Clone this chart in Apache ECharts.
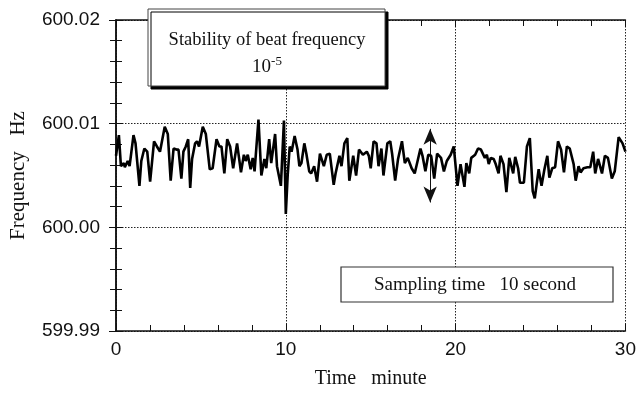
<!DOCTYPE html>
<html><head><meta charset="utf-8">
<script src="https://cdn.jsdelivr.net/npm/echarts@6/dist/echarts.min.js"></script>
<style>html,body{margin:0;padding:0;background:#fff}#c{width:639px;height:394px}</style>
</head><body><div id="c"></div>
<script>
// time in minutes (10 s sampling)
var times = [0.00,0.17,0.29,0.46,0.52,0.69,0.80,1.03,1.15,1.38,1.49,1.67,1.84,2.01,2.24,2.41,2.59,2.70,2.87,3.05,3.22,3.39,3.56,3.68,3.85,3.97,4.11,4.25,4.37,4.48,4.66,4.77,4.89,5.11,5.29,5.52,5.69,5.92,6.09,6.21,6.38,6.55,6.72,6.90,7.13,
7.36,7.53,7.64,7.76,7.93,8.05,8.16,8.39,8.56,8.74,8.85,9.02,9.14,9.37,9.48,9.71,9.89,10.00,10.11,10.23,10.34,10.52,10.69,10.80,10.92,11.09,11.21,11.38,11.49,11.67,11.84,12.01,12.24,12.41,12.59,12.82,12.93,13.16,13.28,13.45,13.62,13.74,13.97,14.14,14.31,14.54,
14.77,14.89,15.00,15.17,15.34,15.46,15.63,15.75,15.98,16.15,16.26,16.44,16.61,16.84,17.01,17.18,17.41,17.59,17.76,17.93,18.05,18.22,18.39,18.56,18.74,18.91,19.14,19.31,19.48,19.71,19.89,20.11,20.29,20.52,20.63,20.80,20.92,21.15,21.32,21.49,21.72,
21.84,21.95,22.07,22.24,22.36,22.53,22.64,22.82,22.99,23.16,23.39,23.51,23.68,23.79,24.02,24.20,24.37,24.54,24.66,24.89,25.06,25.23,25.40,25.52,25.69,25.86,26.03,26.21,26.38,26.55,26.72,26.95,27.07,27.24,27.36,27.53,27.76,27.93,28.10,28.22,28.39,28.62,28.79,28.97,29.20,29.37,29.60,29.83,30.00];
// beat frequency in Hz
var freqs = [600.0069,600.0089,600.0059,600.0062,600.0058,600.0064,600.0059,600.0089,600.0081,600.0040,600.0064,600.0076,600.0073,600.0044,600.0083,600.0078,600.0073,600.0073,600.0097,600.0090,600.0045,600.0076,600.0075,600.0075,600.0047,600.0073,600.0078,600.0085,600.0038,600.0066,600.0081,600.0083,600.0078,600.0097,600.0090,600.0056,600.0057,600.0085,600.0078,600.0078,600.0052,600.0085,600.0078,600.0057,600.0081,
600.0053,600.0070,600.0064,600.0070,600.0056,600.0067,600.0054,600.0104,600.0050,600.0066,600.0057,600.0085,600.0062,600.0090,600.0059,600.0040,600.0103,600.0013,600.0050,600.0078,600.0073,600.0088,600.0075,600.0059,600.0062,600.0081,600.0071,600.0054,600.0052,600.0059,600.0044,600.0071,600.0059,600.0070,600.0071,600.0041,600.0052,600.0069,600.0059,600.0081,600.0086,600.0045,600.0069,600.0050,600.0075,600.0070,
600.0073,600.0069,600.0057,600.0083,600.0081,600.0059,600.0076,600.0050,600.0081,600.0083,600.0071,600.0045,600.0066,600.0083,600.0062,600.0067,600.0057,600.0052,600.0064,600.0076,600.0069,600.0054,600.0070,600.0069,600.0047,600.0071,600.0067,600.0054,600.0064,600.0070,600.0078,600.0040,600.0061,600.0039,600.0062,600.0052,600.0067,600.0070,600.0076,600.0075,600.0067,
600.0070,600.0061,600.0067,600.0066,600.0061,600.0052,600.0069,600.0061,600.0034,600.0067,600.0052,600.0068,600.0057,600.0043,600.0043,600.0078,600.0086,600.0035,600.0028,600.0056,600.0040,600.0056,600.0069,600.0048,600.0057,600.0058,600.0083,600.0075,600.0053,600.0078,600.0076,600.0061,600.0045,600.0059,600.0053,600.0057,600.0058,600.0058,600.0073,600.0052,600.0066,600.0052,600.0069,600.0067,600.0047,600.0054,600.0087,600.0081,600.0073];
var yTicks = [599.99, 600.00, 600.01, 600.02];
var xTicks = [0, 10, 20, 30];
var arrowAt = {t: 18.5, low: 600.0024, high: 600.0095};

var pts = times.map(function(t, i){ return [t, freqs[i]]; });
var chart = echarts.init(document.getElementById('c'));
var serif = '"Liberation Serif","DejaVu Serif",serif';
var sans = '"Liberation Sans",Arial,sans-serif';
var axBase = {
  axisLine: {show: true, lineStyle: {color: '#111', width: 1.5}},
  axisTick: {show: true, inside: true, length: 7, lineStyle: {color: '#111', width: 1}},
  minorTick: {show: true, splitNumber: 5, length: 6, lineStyle: {color: '#111', width: 1}},
};
chart.setOption({
  animation: false,
  grid: {left: 114, right: 3, top: 20, bottom: 57},
  xAxis: [
    Object.assign({type: 'value', min: xTicks[0], max: xTicks[3], interval: 10,
      name: 'Time   minute', nameLocation: 'middle', nameGap: 38,
      nameTextStyle: {fontFamily: serif, fontSize: 20, color: '#111'},
      axisLabel: {fontFamily: sans, fontSize: 19, color: '#111', margin: 9},
      splitLine: {show: true, lineStyle: {color: '#222', type: [1.5, 1.5], width: 1}}
    }, axBase),
    Object.assign({type: 'value', position: 'top', min: xTicks[0], max: xTicks[3], interval: 10,
      axisLabel: {show: false}, splitLine: {show: false}}, axBase)
  ],
  yAxis: [
    Object.assign({type: 'value', min: yTicks[0], max: yTicks[3], interval: 0.01,
      name: 'Frequency   Hz', nameLocation: 'middle', nameGap: 87, nameRotate: 90,
      nameTextStyle: {fontFamily: serif, fontSize: 21, color: '#111'},
      axisLabel: {fontFamily: sans, fontSize: 19, color: '#111', margin: 16, padding: [6, 0, 0, 0],
        formatter: function(v){ return v.toFixed(2); }},
      splitLine: {show: true, lineStyle: {color: '#222', type: [1.5, 1.5], width: 1}}
    }, axBase),
    Object.assign({type: 'value', position: 'right', min: yTicks[0], max: yTicks[3], interval: 0.01,
      axisLabel: {show: false}, splitLine: {show: false}}, axBase)
  ],
  series: [{
    type: 'line', data: pts, showSymbol: false, symbol: 'none',
    lineStyle: {color: '#000', width: 2.6}, z: 5,
    markLine: {
      silent: true, symbol: ['arrow', 'arrow'], symbolSize: [10, 16],
      label: {show: false},
      lineStyle: {color: '#111', width: 1, type: 'solid'},
      data: [[{coord: [arrowAt.t, arrowAt.low]}, {coord: [arrowAt.t, arrowAt.high]}]]
    }
  }],
  graphic: [
    {type: 'rect', z: 100, shape: {x: 148, y: 9, width: 237, height: 77},
     style: {fill: '#fff', stroke: '#444', lineWidth: 1, shadowColor: '#000', shadowOffsetX: 3, shadowOffsetY: 3, shadowBlur: 0}},
    {type: 'text', z: 101, x: 267, y: 40,
     style: {text: 'Stability of beat frequency', font: '18.5px ' + serif, fill: '#111', align: 'center', verticalAlign: 'middle'}},
    {type: 'text', z: 101, x: 267, y: 66,
     style: {text: '{a|10}{s|-5}', align: 'center', verticalAlign: 'middle', fill: '#111',
       rich: {a: {fontFamily: serif, fontSize: 19, fill: '#111', lineHeight: 22, verticalAlign: 'bottom'},
              s: {fontFamily: serif, fontSize: 13, fill: '#111', lineHeight: 22, verticalAlign: 'top'}}}},
    {type: 'rect', z: 100, shape: {x: 341, y: 267, width: 272, height: 35},
     style: {fill: '#fff', stroke: '#333', lineWidth: 1.2}},
    {type: 'text', z: 101, x: 475, y: 285,
     style: {text: 'Sampling time   10 second', font: '19px ' + serif, fill: '#111', align: 'center', verticalAlign: 'middle'}}
  ]
});
</script></body></html>
